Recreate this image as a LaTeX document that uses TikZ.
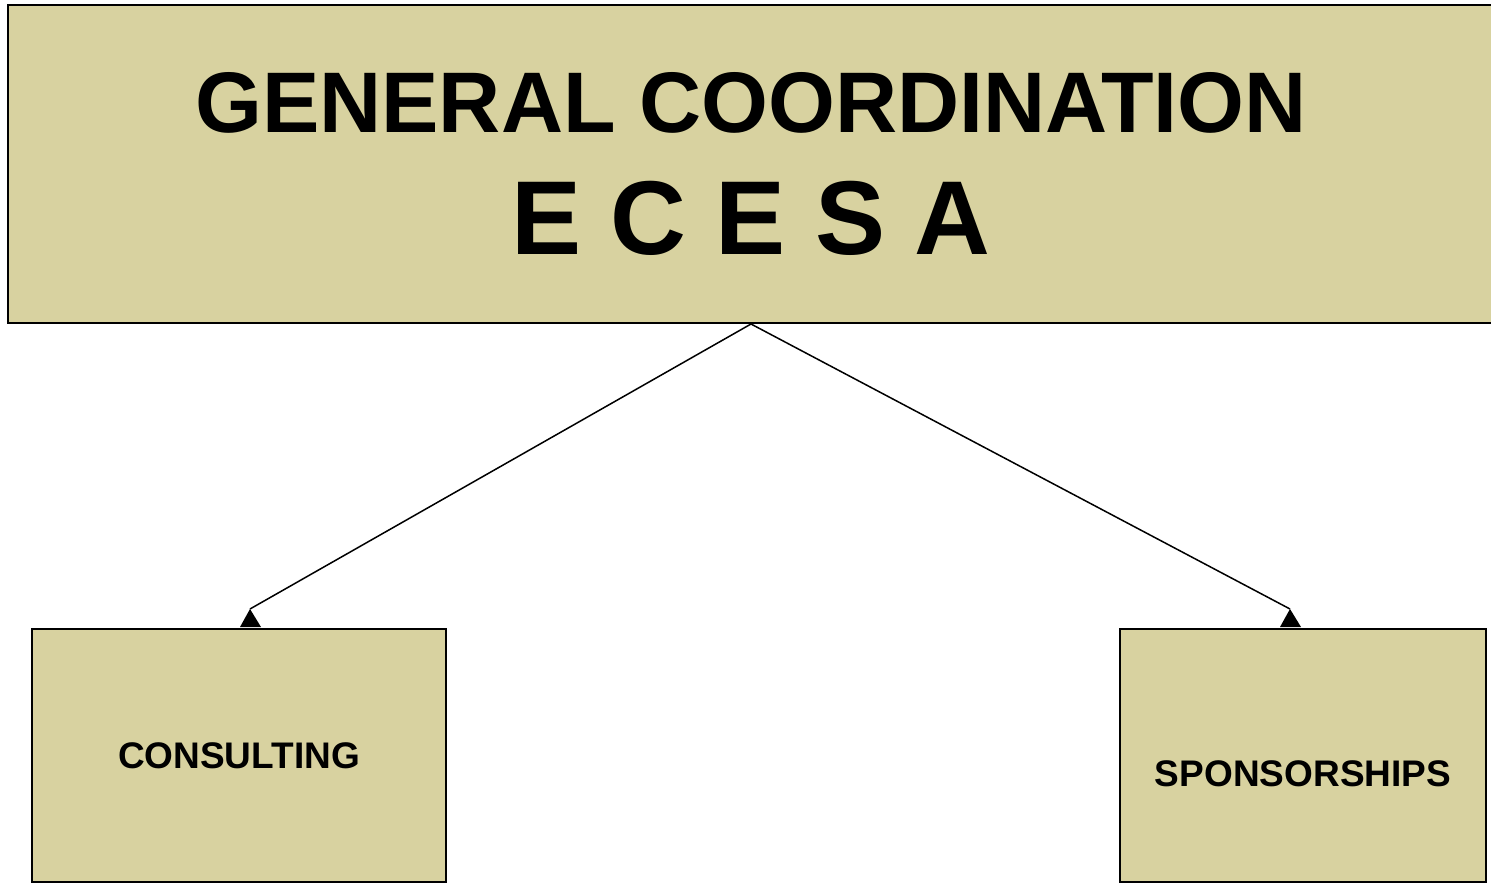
\documentclass[tikz,border=0pt]{standalone}
\usepackage{fontspec}
\setmainfont{Liberation Sans}
\usepackage{tikz}
\usetikzlibrary{arrows.meta}
\definecolor{boxkhaki}{RGB}{216,210,160}

\begin{document}
\begin{tikzpicture}[x=1pt,y=-1pt]
	\useasboundingbox (0,0) rectangle (1491,885);
	\begin{scope}[every node/.style = {rectangle, draw=black, line width=2pt,
			fill=boxkhaki, inner sep=0pt}]
		\node [minimum width=1486, minimum height=318] (coord) at (751,164) {};
		\node [minimum width=414, minimum height=253] (consult) at (239,755.5) {};
		\node [minimum width=366, minimum height=253] (sponsor) at (1303,755.5) {};
	\end{scope}
	\begin{scope}[every node/.style = {anchor=base, inner sep=0pt, font=\bfseries}]
		\node [font=\fontsize{86}{86}\selectfont\bfseries] (title) at (751,133) {GENERAL COORDINATION};
		\node [font=\fontsize{105}{105}\selectfont\bfseries] (ecesa) at (751,255) {E C E S A};
		\node [font=\fontsize{37}{37}\selectfont\bfseries] (consulttext) at (239,768) {CONSULTING};
		\node [font=\fontsize{37}{37}\selectfont\bfseries] (sponsortext) at (1303,786) {SPONSORSHIPS};
	\end{scope}
	\coordinate (tipL) at (250,609);
	\coordinate (tipR) at (1290,609);
	\begin{scope}[line width=1.5pt]
		\draw (coord.south) -- (tipL);
		\draw (coord.south) -- (tipR);
		\fill (tipL) -- ++(-10,18) -- ++(21,0) -- cycle;
		\fill (tipR) -- ++(-10,18) -- ++(21,0) -- cycle;
	\end{scope}
\end{tikzpicture}
\end{document}
